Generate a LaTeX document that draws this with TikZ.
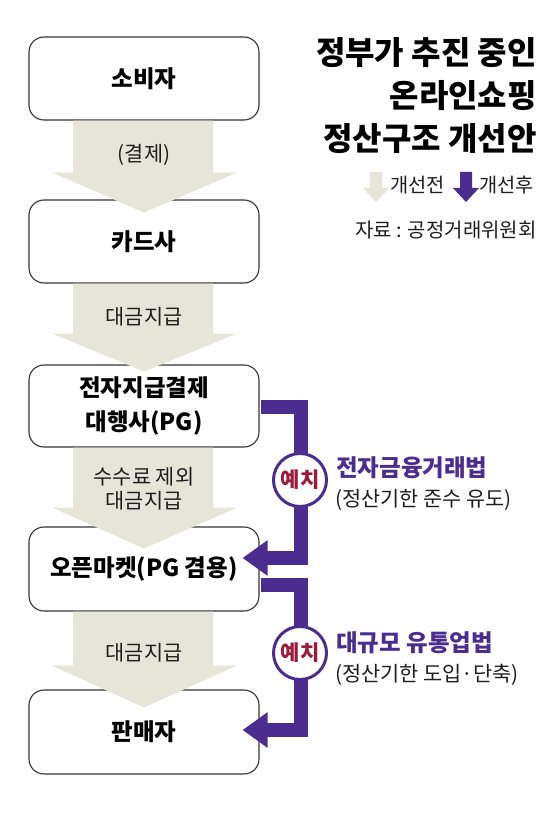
\documentclass[tikz,border=0pt]{standalone}
\usepackage{fontspec}
\setmainfont{Noto Sans CJK KR}
\usetikzlibrary{calc,arrows.meta}
\definecolor{gbeige}{HTML}{E7E5DA}
\definecolor{purp}{HTML}{4A2D8E}
\definecolor{yred}{HTML}{9B1B3A}
\definecolor{txt}{HTML}{1E1E1E}
\begin{document}
\begin{tikzpicture}[x=1pt,y=-1pt,
  box/.style={draw=black!80, line width=1.1pt, rounded corners=15pt, fill=white,
    minimum width=230pt, inner sep=0pt, align=center, text=black,
    font=\fontsize{23.5}{33.5}\selectfont\bfseries},
  lbl/.style={text=txt, align=center, inner sep=0pt, font=\fontsize{20.8}{24}\selectfont},
  pline/.style={draw=purp, line width=14pt, line join=miter, line cap=butt,
    -{Triangle[length=25pt,width=34pt]}},
  yechi/.style={circle, draw=purp, line width=3pt, fill=white, minimum size=53pt,
    inner sep=0pt, text=yred, font=\fontsize{21}{22}\selectfont\bfseries},
  law/.style={anchor=west, inner sep=0pt, text=purp, font=\fontsize{23.5}{26}\selectfont\bfseries},
  lawsub/.style={anchor=west, inner sep=0pt, text=txt, font=\fontsize{20.8}{24}\selectfont},
]
\useasboundingbox (0,0) rectangle (559,818);
\fill[white] (0,0) rectangle (559,818);

% boxes
\node[box, minimum height=83pt] (b1) at (144,78.5) {소비자};
\node[box, minimum height=83pt] (b2) at (144,241.5) {카드사};
\node[box, minimum height=82pt] (b3) at (144,406) {전자지급결제\\대행사(PG)};
\node[box, minimum height=84pt] (b4) at (144,569) {오픈마켓(PG 겸용)};
\node[box, minimum height=84pt] (b5) at (144,732) {판매자};

% gray arrows
\newcommand{\grayarrow}[4]{%
  \fill[gbeige] ($(#1.south)+(-71,0)$) -- ($(#1.south)+(69,0)$) -- ($(#1.south)+(69,#3)$)
    -- ($(#1.south)+(93,#3)$) -- ($(#2.north)+(0,#4)$) -- ($(#1.south)+(-92,#3)$)
    -- ($(#1.south)+(-71,#3)$) -- cycle;}
\grayarrow{b1}{b2}{52}{13}
\grayarrow{b2}{b3}{50}{7}
\grayarrow{b3}{b4}{60}{22}
\grayarrow{b4}{b5}{54}{18}

% arrow labels
\node[lbl] (l1) at (144,155) {(결제)};
\node[lbl] (l2) at (144,317) {대금지급};
\node[lbl] (l3) at (144,489) {수수료 제외\\대금지급};
\node[lbl] (l4) at (144,653) {대금지급};

% purple connectors
\coordinate (t1) at ($(b4.east)+(-17,-11)$);
\coordinate (t2) at ($(b5.east)+(-17,-2)$);
\draw[pline] ($(b3.east)+(1,1)$) -- ($(b3.east)+(41,1)$) |- (t1);
\draw[pline] ($(b4.east)+(1,16)$) -- ($(b4.east)+(41,16)$) |- (t2);
\node[yechi] (c1) at (300,480) {예치};
\node[yechi] (c2) at (300,653) {예치};

% law labels
\node[law] (law1) at (336,468) {전자금융거래법};
\node[lawsub] (sub1) at (335,500) {(정산기한 준수 유도)};
\node[law] (law2) at (336,643) {대규모 유통업법};
\node[lawsub] (sub2) at (335,675) {(정산기한 도입·단축)};

% title
\node[anchor=east, align=right, inner sep=0pt, text=black,
  font=\fontsize{32}{43}\selectfont\bfseries] (title) at (537,96) {정부가 추진 중인\\온라인쇼핑\\정산구조 개선안};

% legend
\fill[gbeige] (370,172) -- (382,172) -- (382,188) -- (389,188) -- (376,202) -- (363,188) -- (370,188) -- cycle;
\fill[purp] (460,172) -- (472,172) -- (472,188) -- (479,188) -- (466,202) -- (453,188) -- (460,188) -- cycle;
\node[anchor=west, inner sep=0pt, text=txt, font=\fontsize{19.8}{22}\selectfont] (lg1) at (390,185) {개선전};
\node[anchor=west, inner sep=0pt, text=txt, font=\fontsize{19.8}{22}\selectfont] (lg2) at (479,185) {개선후};
\node[anchor=east, inner sep=0pt, text=txt, font=\fontsize{20}{22}\selectfont] (src) at (537,230) {자료 : 공정거래위원회};
\end{tikzpicture}
\end{document}
